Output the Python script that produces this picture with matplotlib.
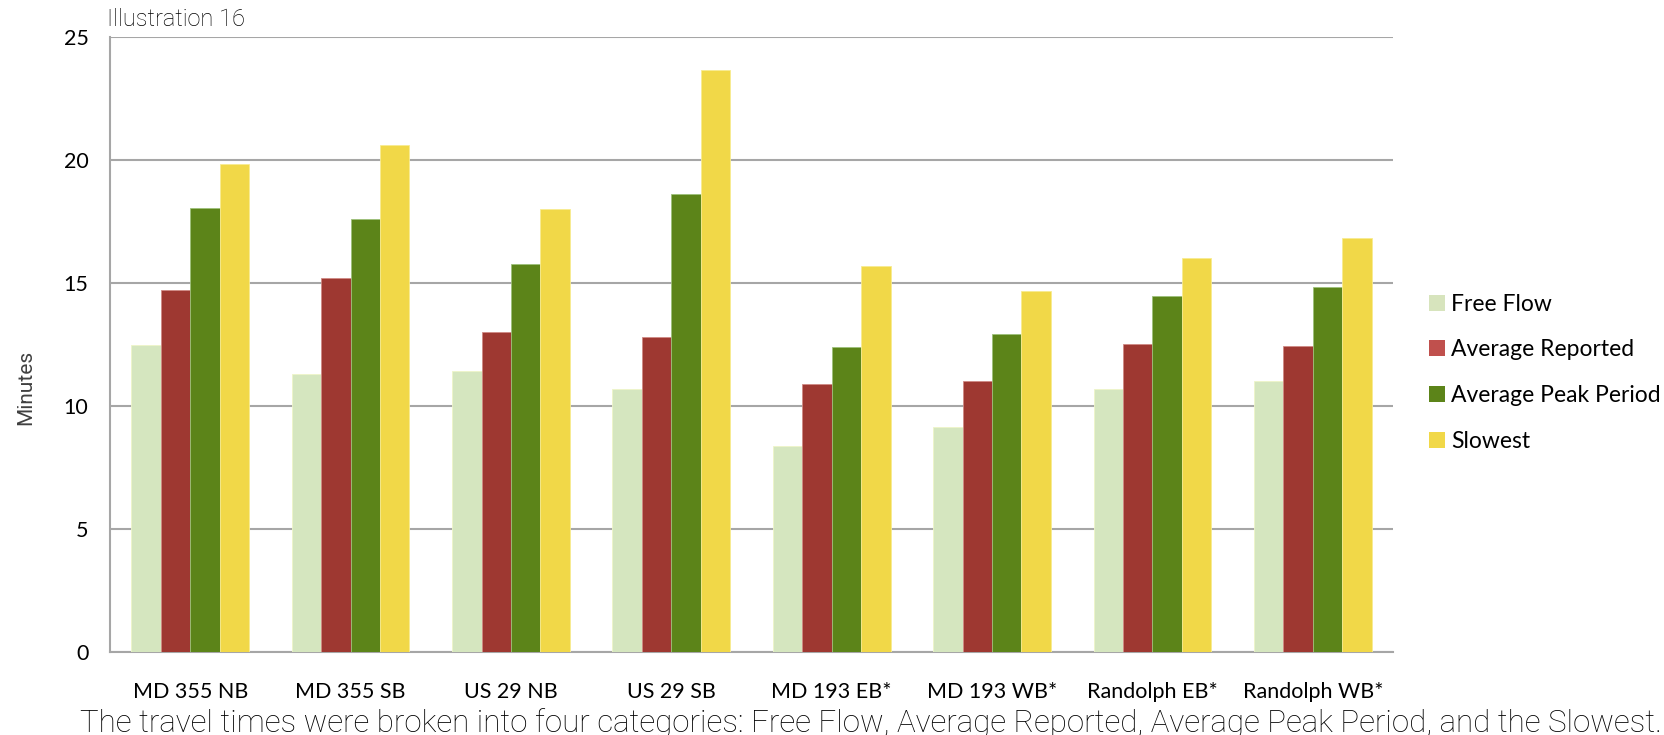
import matplotlib
matplotlib.use("Agg")
import matplotlib.pyplot as plt
import numpy as np
from matplotlib.patches import Patch

# travel times (minutes) per corridor and direction
routes = ["MD 355 NB", "MD 355 SB", "US 29 NB", "US 29 SB",
          "MD 193 EB*", "MD 193 WB*", "Randolph EB*", "Randolph WB*"]
free_flow = [12.45, 11.31, 11.42, 10.70, 8.36, 9.12, 10.70, 11.02]
avg_reported = [14.69, 15.19, 12.98, 12.79, 10.87, 11.02, 12.51, 12.42]
avg_peak = [18.04, 17.59, 15.77, 18.60, 12.39, 12.91, 14.46, 14.81]
slowest = [19.81, 20.61, 18.00, 23.63, 15.68, 14.66, 16.00, 16.82]
y_ticks = [0, 5, 10, 15, 20, 25]

series_names = ["Free Flow", "Average Reported", "Average Peak Period", "Slowest"]
bar_colors = ["#D5E6BF", "#9E3831", "#5C8419", "#F1D848"]
legend_colors = ["#D7E4BD", "#C0504D", "#5C8419", "#F1D848"]
edge_colors = ["#EEF5C8", "#D08A85", "#9DC07A", "#F8EC90"]

light_font = ["Roboto", "DejaVu Sans"]
body_font = ["Lato", "DejaVu Sans"]

fig = plt.figure(figsize=(16.65, 7.35), dpi=100)
ax = fig.add_axes([0.0661, 0.1133, 0.7705, 0.8367])

x = np.arange(len(routes))
w = 0.1835
for i, vals in enumerate([free_flow, avg_reported, avg_peak, slowest]):
    ax.bar(x + (i - 1.5) * w, vals, width=w, color=bar_colors[i],
           edgecolor=edge_colors[i], linewidth=0.6, zorder=3)

ax.set_xlim(-0.5, len(routes) - 0.5)
ax.set_ylim(0, 25)
ax.set_yticks(y_ticks)
ax.set_xticks(x)
ax.set_xticklabels(routes, fontfamily=body_font, fontsize=15.5)
ax.set_yticklabels([str(v) for v in y_ticks],
                   fontfamily=body_font, fontsize=15.5)
ax.xaxis.set_tick_params(length=0, pad=22, labelcolor="#000000")
ax.yaxis.set_tick_params(length=0, pad=15.5, labelcolor="#000000")

ax.grid(axis="y", color="#A6A6A6", linewidth=1.5, zorder=0)
for side in ["top", "right"]:
    ax.spines[side].set_visible(False)
for side in ["left", "bottom"]:
    ax.spines[side].set_color("#A6A6A6")
    ax.spines[side].set_linewidth(1.5)

ax.set_ylabel("Minutes", fontfamily=light_font, fontweight="normal",
              fontsize=15, color="#404040")
ax.yaxis.set_label_coords(-0.058, 0.43)

handles = [Patch(facecolor=c, edgecolor="none") for c in legend_colors]
fig.legend(handles, series_names, loc="upper left",
           bbox_to_anchor=(0.853, 0.613), frameon=False,
           prop={"family": body_font, "size": 16.5},
           handlelength=0.7, handleheight=0.7, handletextpad=0.25,
           labelspacing=1.08, borderaxespad=0)

fig.text(0.064, 0.958, "Illustration 16", fontfamily=light_font,
         fontweight="light", fontsize=17, color="#000000", va="bottom")
fig.text(0.048, 0.016, "The travel times were broken into four categories: "
         "Free Flow, Average Reported, Average Peak Period, and the Slowest.",
         fontfamily=light_font, fontweight="light", fontsize=22.5,
         color="#000000", va="center")

fig.savefig("out.png", dpi=100)
